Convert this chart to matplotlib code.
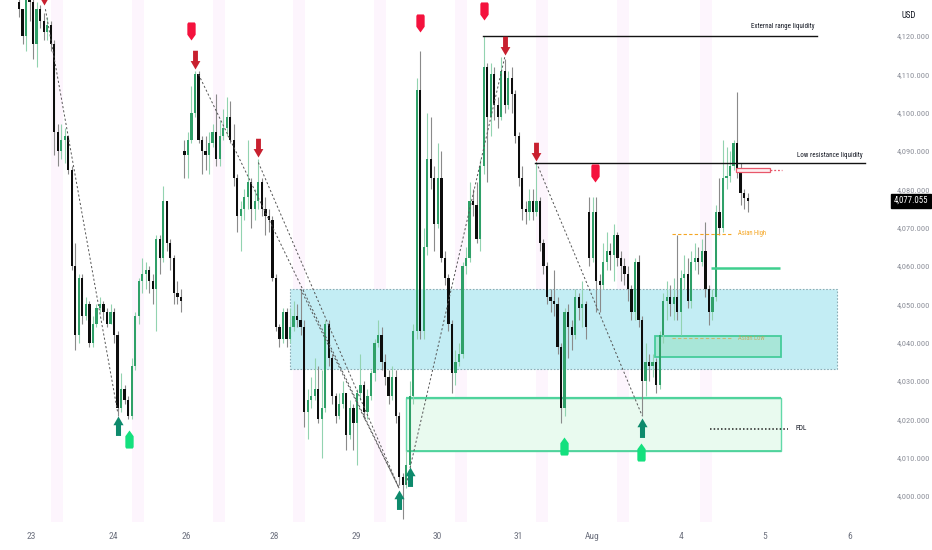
import matplotlib
matplotlib.use('Agg')
import matplotlib.pyplot as plt
from matplotlib.path import Path
from matplotlib.patches import Rectangle
from matplotlib.transforms import blended_transform_factory

plt.rcParams['font.family'] = ['Roboto Condensed', 'Liberation Sans Narrow', 'Roboto', 'DejaVu Sans']

# ---------------- data ----------------
first_open = 4129.0
gap_opens = {47: 4090.0, 162: 4074.0}

closes = [
    4127, 4120, 4130, 4129, 4118, 4127, 4124, 4121, 4123, 4118,
    4095, 4090, 4093, 4094, 4085, 4060, 4042, 4057, 4047, 4050,
    4040, 4045, 4049, 4050, 4048, 4045, 4048, 4042, 4023, 4028,
    4025, 4021, 4034, 4047, 4056, 4058, 4059, 4056, 4054, 4067,
    4062, 4077, 4066, 4062, 4053, 4052, 4051,
    4089, 4093, 4100, 4110, 4093, 4090, 4089, 4092, 4095, 4088,
    4094, 4096, 4099, 4093, 4083, 4073, 4075, 4078, 4082, 4075,
    4077, 4082, 4075, 4073, 4072, 4057, 4044, 4041, 4048, 4041,
    4044, 4047, 4046, 4044, 4022, 4025, 4026, 4028, 4020, 4023,
    4045, 4036, 4026, 4021, 4024, 4027, 4016, 4023, 4019, 4027,
    4029, 4022, 4026, 4032, 4040, 4042,
    4035, 4031, 4026, 4031, 4021, 4005, 4003, 4008, 4026, 4043,
    4106, 4043, 4065, 4088, 4083, 4071, 4083, 4062, 4057, 4045,
    4032, 4035, 4037, 4060, 4062, 4077, 4076, 4067, 4086, 4112,
    4099, 4110, 4102, 4099, 4111, 4102, 4109, 4105, 4094, 4083,
    4075, 4074, 4077, 4074, 4077, 4066, 4060, 4052, 4051, 4050,
    4039, 4023, 4048, 4044, 4042, 4052, 4049, 4050, 4044,
    4062, 4074, 4056, 4055, 4061, 4064, 4063, 4068, 4062, 4060,
    4058, 4054, 4048, 4061, 4046, 4030, 4035, 4034, 4035, 4029,
    4042, 4051, 4052, 4050, 4052, 4048, 4057, 4058, 4051, 4061,
    4062, 4061, 4064, 4054, 4048, 4052, 4074, 4070, 4083, 4083.5,
    4086, 4092, 4085, 4079, 4077.7, 4077.055,
]
highs = [
    4131, 4127, 4132, 4133, 4131, 4129, 4128, 4126, 4125, 4124,
    4119, 4097, 4097, 4096, 4094, 4086, 4066, 4058, 4058, 4052,
    4051, 4047, 4050, 4052, 4051, 4049, 4050, 4049, 4043, 4032,
    4029, 4026, 4036, 4048, 4057, 4062, 4061, 4060, 4058, 4068,
    4068, 4081, 4077, 4067, 4063, 4056, 4054,
    4093, 4095, 4107, 4111, 4111, 4094, 4094, 4095, 4097, 4105,
    4098, 4101, 4104, 4103, 4097, 4084, 4077, 4080, 4093, 4083,
    4080, 4088, 4083, 4078, 4075, 4073, 4058, 4045, 4049, 4049,
    4049, 4051, 4050, 4054, 4046, 4028, 4031, 4036, 4034, 4033,
    4046, 4046, 4037, 4027, 4027, 4030, 4027, 4025, 4024, 4028,
    4037, 4030, 4028, 4033, 4041, 4046,
    4044, 4037, 4033, 4034, 4033, 4022, 4006, 4012, 4030, 4045,
    4109, 4116, 4070, 4100, 4099, 4086, 4092, 4090, 4064, 4058,
    4046, 4038, 4040, 4061, 4065, 4082, 4080, 4082, 4088, 4120,
    4113, 4113, 4112, 4104, 4114.5, 4114, 4111, 4112, 4106, 4095,
    4086, 4077, 4080, 4080, 4087, 4078, 4067, 4061, 4054, 4059,
    4052, 4040, 4049, 4050, 4046, 4054, 4053, 4056, 4051,
    4078, 4078, 4078, 4058, 4066, 4069, 4066, 4071, 4069, 4064,
    4062, 4060, 4055, 4062, 4063, 4047, 4040, 4037, 4037, 4036,
    4043, 4053, 4056, 4055, 4057, 4068, 4059, 4063, 4062, 4064,
    4066, 4065, 4067, 4071.5, 4055, 4054, 4076, 4083, 4093, 4091,
    4090, 4093, 4105.4, 4087, 4080, 4079,
]
lows = [
    4125, 4118, 4116, 4124, 4114, 4112, 4122, 4119, 4119, 4116,
    4089, 4086, 4088, 4087, 4084, 4059, 4038, 4040, 4045, 4046,
    4039, 4039, 4044, 4048, 4046, 4044, 4045, 4040, 4021, 4022,
    4024, 4020, 4020, 4033, 4045, 4053, 4054, 4053, 4050, 4043,
    4058, 4061, 4064, 4059, 4050, 4050, 4048,
    4083, 4083, 4092, 4099, 4092, 4084, 4085, 4084, 4091, 4086,
    4086, 4093, 4094, 4092, 4081, 4069, 4064, 4072, 4075, 4070,
    4072, 4075, 4073, 4068, 4069, 4056, 4043, 4039, 4040, 4039,
    4040, 4043, 4044, 4042, 4018, 4015, 4023, 4025, 4019, 4010,
    4022, 4034, 4024, 4019, 4020, 4023, 4012, 4015, 4012, 4008,
    4025, 4020, 4020, 4025, 4030, 4039,
    4033, 4029, 4024, 4025, 4019, 4003, 3994, 4002, 4006, 4024,
    4041, 4041, 4041, 4063, 4080, 4064, 4070, 4061, 4055, 4043,
    4027, 4029, 4034, 4036, 4058, 4061, 4073, 4066, 4064, 4084,
    4082, 4094, 4098, 4096, 4098, 4100, 4101, 4100, 4092, 4081,
    4072, 4071, 4072, 4072, 4073, 4064, 4058, 4050, 4048, 4047,
    4037, 4019, 4021, 4036, 4038, 4041, 4046, 4044, 4041,
    4060, 4061, 4048, 4048, 4054, 4059, 4059, 4056, 4060, 4056,
    4055, 4051, 4046, 4046, 4044, 4021, 4026, 4030, 4031, 4027,
    4028, 4040, 4046, 4047, 4046, 4046, 4042, 4054, 4049, 4049,
    4059, 4058, 4060, 4052, 4044.6, 4046, 4051, 4068, 4069, 4080,
    4082, 4085, 4083, 4076, 4075, 4074,
]

date_ticks = [3.4, 26.7, 47.4, 72.4, 95.7, 118.8, 141.8, 162.8, 188.1, 211.9, 236.1]
date_labels = ['23', '24', '26', '28', '29', '30', '31', 'Aug', '4', '5', '6']
price_ticks = [4000, 4010, 4020, 4030, 4040, 4050, 4060, 4070, 4080, 4090, 4100, 4110, 4120]
session_starts = [9.1, 32.1, 55.1, 77.8, 100.9, 123.9, 146.9, 169.9, 193.5]

red_arrow_x = [7, 50, 68, 138, 147]
red_arrow_y = [4128, 4111.5, 4088.5, 4115, 4087.5]
pink_label_x = [49, 114, 132, 163.6]
pink_label_y = [4119, 4121, 4124.2, 4082]
teal_arrow_x = [28, 108, 111, 177]
teal_arrow_y = [4021, 4001.6, 4007.6, 4020.3]
green_label_x = [31.2, 154.8, 176.8]
green_label_y = [4017.2, 4015.4, 4013.8]

swing_lines = [((7.5, 4127), (28, 4022)), ((51, 4110), (108, 4002)),
               ((68, 4087), (108, 4002)), ((80, 4054), (108, 4002)),
               ((110, 4003), (138, 4114.5)), ((147, 4087), (177, 4021))]

blue_zone = (77, 232.4, 4033.1, 4054.0)
green_zone = (109.9, 216.5, 4011.7, 4025.6)
asian_box = (180.7, 216.5, 4036.3, 4041.7)
red_box = (203.7, 213.4, 4084.4, 4085.7)

external_level = (4120.0, 131.8, 226.7)
low_res_level = (4086.9, 146.6, 240.3)
asian_high = (4068.4, 185.5, 202.6)
asian_low = (4041.2, 185.5, 202.6)
green_level = (4059.5, 196.6, 216.2)
pdl_level = (4017.5, 196.3, 218.5)
last_price = 4077.055

# ---------------- figure ----------------
W, H = 932, 550
fig = plt.figure(figsize=(W / 100, H / 100), dpi=100)
fig.patch.set_facecolor('white')
ax = fig.add_axes([0, (H - 522) / H, 888 / W, 522 / H])
ax.set_facecolor('white')
ax.set_xlim(-5.40, 246.88)
ax.set_ylim(3993.22, 4129.4)
for s in ax.spines.values():
    s.set_visible(False)

for s0 in session_starts:
    ax.axvspan(s0, s0 + 3.4, color='#fdf5fd', zorder=0, lw=0)

# zones
x0, x1, y0, y1 = blue_zone
ax.add_patch(Rectangle((x0, y0), x1 - x0, y1 - y0, facecolor='#c3edf4', edgecolor='#8aaeb6',
                       lw=0.8, ls=(0, (1.5, 1.5)), zorder=1))
x0, x1, y0, y1 = green_zone
ax.add_patch(Rectangle((x0, y0), x1 - x0, y1 - y0, facecolor='#e9faef', edgecolor='#62d9a9',
                       lw=1.0, zorder=1))
ax.plot([x0, x1], [y1, y1], color='#4fd39c', lw=1.6, zorder=1.2, solid_capstyle='butt')
ax.plot([x0, x1], [y0, y0], color='#4fd39c', lw=1.3, zorder=1.2, solid_capstyle='butt')
x0, x1, y0, y1 = asian_box
ax.add_patch(Rectangle((x0, y0), x1 - x0, y1 - y0, facecolor='#a8e6d8', edgecolor='#45cc9b',
                       lw=1.3, zorder=1.3))

# candles
opens = [first_open] + closes[:-1]
for k, v in gap_opens.items():
    opens[k] = v
up_body, up_wick = '#2fa068', '#92d3b0'
dn_body, dn_wick = '#0d0d0d', '#8a8a8a'
bw = 0.64
for i, (o, h, l, c) in enumerate(zip(opens, highs, lows, closes)):
    up = c >= o
    hh = max(h, o, c)
    ll = min(l, o, c)
    ax.vlines(i, ll, hh, color=up_wick if up else dn_wick, lw=0.8, zorder=3)
    bot = min(o, c)
    height = max(abs(c - o), 0.35)
    ax.add_patch(Rectangle((i - bw / 2, bot), bw, height, facecolor=up_body if up else dn_body,
                           edgecolor='none', zorder=4))

# swing dashed lines
for (xa, ya), (xb, yb) in swing_lines:
    ax.plot([xa, xb], [ya, yb], color='#555555', lw=0.7, ls=(0, (2.2, 2.2)), zorder=5)

# levels
lv, a, b = external_level
ax.plot([a, b], [lv, lv], color='#131313', lw=1.0, zorder=5)
ax.text(b - 0.6, lv + 2.4, 'External range liquidity', ha='right', va='center', fontsize=5.0,
        color='#131722', zorder=6)
lv, a, b = low_res_level
ax.plot([a, b], [lv, lv], color='#131313', lw=1.0, zorder=5)
ax.text(b - 0.6, lv + 1.9, 'Low resistance liquidity', ha='right', va='center', fontsize=5.0,
        color='#131722', zorder=6)
lv, a, b = asian_high
ax.plot([a, b], [lv, lv], color='#f5a623', lw=0.8, ls=(0, (3, 2)), zorder=5)
ax.text(b + 1.6, lv, 'Asian High', ha='left', va='center', fontsize=4.8, color='#f5a623', zorder=6)
lv, a, b = asian_low
ax.plot([a, b], [lv, lv], color='#d7a54a', lw=0.8, ls=(0, (3, 2)), alpha=0.7, zorder=5)
ax.text(b + 1.6, lv, 'Asian Low', ha='left', va='center', fontsize=4.8, color='#c9a24e',
        alpha=0.75, zorder=6)
lv, a, b = green_level
ax.plot([a, b], [lv, lv], color='#3fcf8e', lw=1.8, zorder=5, solid_capstyle='butt')
lv, a, b = pdl_level
ax.plot([a, b], [lv, lv], color='#222222', lw=1.1, ls=(0, (1, 1.4)), zorder=5)
ax.text(b + 2.0, lv, 'PDL', ha='left', va='center', fontsize=5.2, color='#131722', zorder=6)

x0, x1, y0, y1 = red_box
ax.add_patch(Rectangle((x0, y0), x1 - x0, y1 - y0, facecolor='#fdeef0', edgecolor='#e8576a',
                       lw=0.9, zorder=5))
ax.plot([x1, x1 + 3.4], [(y0 + y1) / 2] * 2, color='#e8576a', lw=0.9, ls=(0, (1.5, 1.5)), zorder=5)

# markers
down_arrow = Path([(0, 0), (0.26, 0.45), (0.13, 0.45), (0.13, 1.0), (-0.13, 1.0), (-0.13, 0.45),
                   (-0.26, 0.45), (0, 0)], closed=True)
up_arrow = Path([(0, 0), (0.26, -0.45), (0.13, -0.45), (0.13, -1.0), (-0.13, -1.0), (-0.13, -0.45),
                 (-0.26, -0.45), (0, 0)], closed=True)
label_down = Path([(0, 0), (0.23, 0.32), (0.23, 0.92), (0.18, 1.0), (-0.18, 1.0), (-0.23, 0.92),
                   (-0.23, 0.32), (0, 0)], closed=True)
label_up = Path([(0, 0), (0.23, -0.32), (0.23, -0.92), (0.18, -1.0), (-0.18, -1.0), (-0.23, -0.92),
                 (-0.23, -0.32), (0, 0)], closed=True)

ax.plot(red_arrow_x, red_arrow_y, ls='none', marker=down_arrow, ms=27, color='#c8202f', mew=0, zorder=7)
ax.plot(pink_label_x, pink_label_y, ls='none', marker=label_down, ms=26, color='#f4123d', mew=0, zorder=7)
ax.plot(teal_arrow_x, teal_arrow_y, ls='none', marker=up_arrow, ms=28, color='#0e8a6c', mew=0, zorder=7)
ax.plot(green_label_x, green_label_y, ls='none', marker=label_up, ms=26, color='#14e07e', mew=0, zorder=7)

# axes ticks
ax.set_xticks(date_ticks)
ax.set_xticklabels(date_labels)
ax.tick_params(axis='x', length=0, pad=7.5, labelsize=6.8, labelcolor='#6f7380')
ax.yaxis.tick_right()
ax.set_yticks(price_ticks)
ax.set_yticklabels([f'{p:,.3f}' for p in price_ticks])
ax.tick_params(axis='y', length=0, pad=6.0, labelsize=6.0, labelcolor='#8d909a')

tr = blended_transform_factory(ax.transAxes, ax.transData)
ax.text(1.0065, last_price, f'{last_price:,.3f}', transform=tr, ha='left', va='center', fontsize=6.3,
        color='white', clip_on=False, zorder=10,
        bbox=dict(boxstyle='square,pad=0.3', facecolor='black', edgecolor='black'))
fig.text(902 / W, 1 - 15 / H, 'USD', ha='left', va='center', fontsize=6.4, color='#131722')

fig.savefig('out.png', dpi=100, facecolor='white')
